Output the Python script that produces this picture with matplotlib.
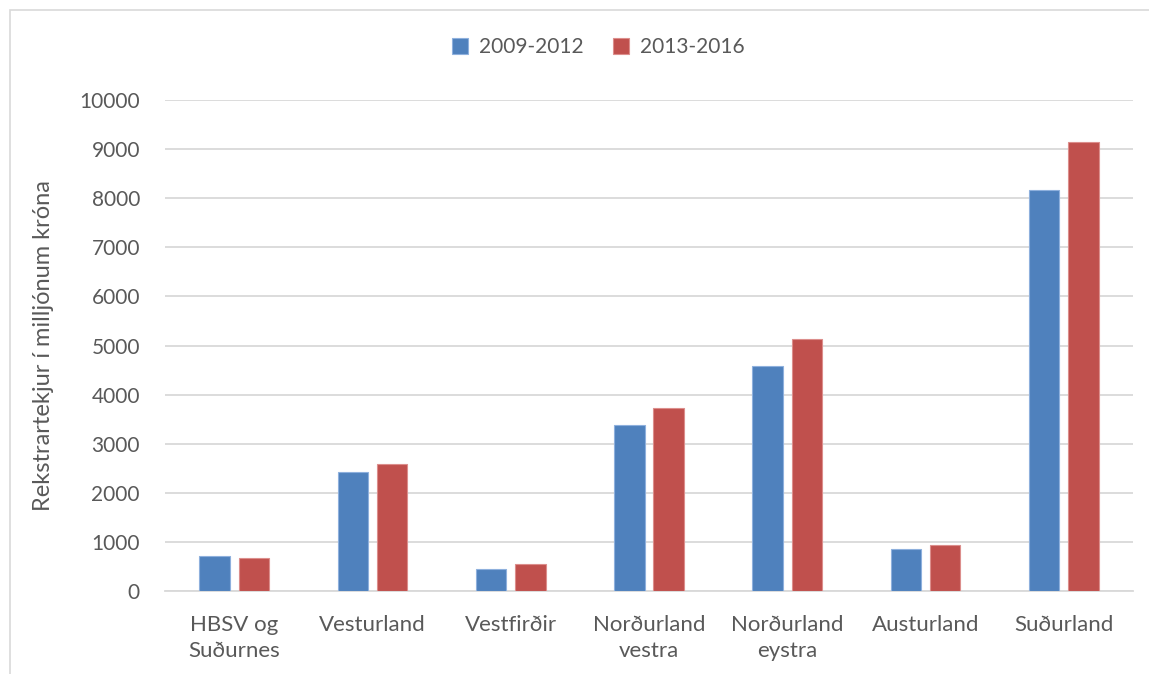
import matplotlib.pyplot as plt
import numpy as np
from matplotlib.patches import Rectangle

categories = ["HBSV og\nSuðurnes", "Vesturland", "Vestfirðir", "Norðurland\nvestra",
              "Norðurland\neystra", "Austurland", "Suðurland"]
series_names = ["2009-2012", "2013-2016"]
values_2009_2012 = [722, 2430, 457, 3388, 4592, 848, 8163]
values_2013_2016 = [673, 2580, 548, 3720, 5129, 947, 9149]
yticks = list(range(0, 10001, 1000))

plt.rcParams['font.family'] = ['Lato', 'DejaVu Sans']
text_color = '#595959'

fig = plt.figure(figsize=(11.49, 6.74), dpi=100)
ax = fig.add_axes([0.1436, 0.1231, 0.8425, 0.7285])

# chart-area border
fig.patches.append(Rectangle((10 / 1149, -0.01), 1.0, 1 - 10 / 674 + 0.01,
                             transform=fig.transFigure, fill=False,
                             edgecolor='#d9d9d9', linewidth=1.2))

x = np.arange(len(categories))
w = 0.22
off = 0.142
ax.bar(x - off, values_2009_2012, w, color='#4f81bd', edgecolor='#8eb0dd',
       linewidth=0.8, label=series_names[0], zorder=3)
ax.bar(x + off, values_2013_2016, w, color='#c0504d', edgecolor='#dc8e8c',
       linewidth=0.8, label=series_names[1], zorder=3)

ax.set_xlim(-0.5, len(categories) - 0.5)
ax.set_ylim(0, 10000)
ax.set_yticks(yticks)
ax.set_xticks(x)
ax.set_xticklabels(categories, linespacing=1.4)
ax.tick_params(axis='both', length=0, colors=text_color)
ax.tick_params(axis='y', pad=18, labelsize=15)
ax.tick_params(axis='x', pad=17, labelsize=16)
ax.grid(axis='y', color='#d9d9d9', linewidth=1.3, zorder=0)
for s in ['top', 'right', 'left']:
    ax.spines[s].set_visible(False)
ax.spines['bottom'].set_color('#d9d9d9')
ax.spines['bottom'].set_linewidth(1.3)

ax.set_ylabel("Rekstrartekjur í milljónum króna", fontsize=17, color=text_color, labelpad=18)

fig.legend(loc='center', bbox_to_anchor=(598 / 1149, 1 - 47 / 674), ncol=2, frameon=False,
           fontsize=15, labelcolor=text_color, handlelength=0.8, handleheight=0.8,
           columnspacing=1.4, handletextpad=0.5)

fig.savefig("out.png", dpi=100)
